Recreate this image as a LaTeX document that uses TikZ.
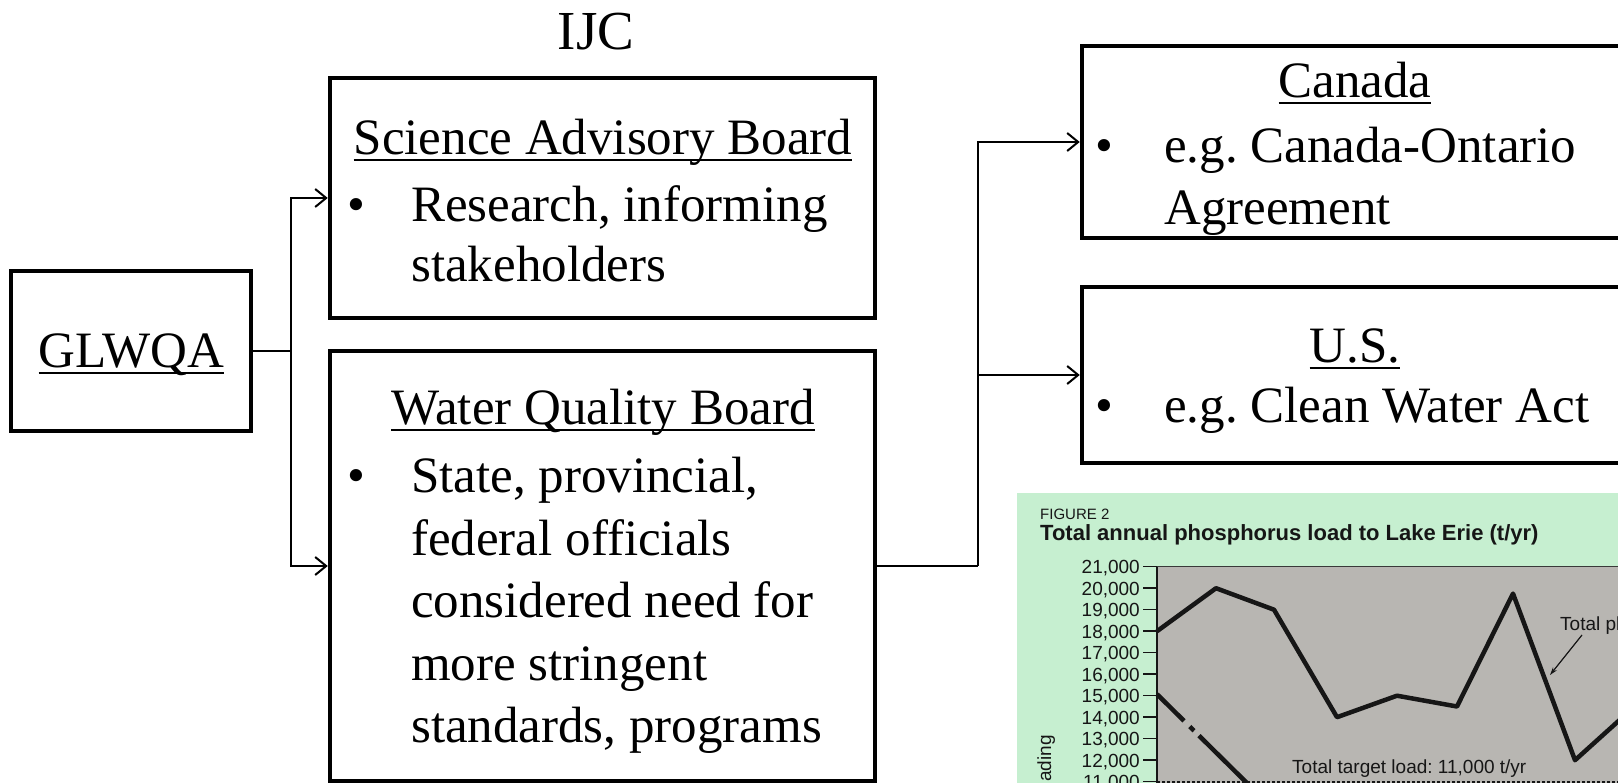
\documentclass[tikz,border=0pt]{standalone}
\usepackage{fontspec}
\setmainfont{Liberation Serif}
\newfontfamily\chartfont{Liberation Sans}
\usetikzlibrary{arrows.meta}

\definecolor{figgreen}{RGB}{198,239,208}
\definecolor{plotgray}{RGB}{184,182,178}
\definecolor{ink}{RGB}{22,22,22}

% underline at a fixed depth below the baseline (descenders cross it)
\newcommand\ulword[1]{\setbox0\hbox{#1}\rlap{\rule[-6.5pt]{\wd0}{2.2pt}}\box0}
\newcommand\bodysize{\fontsize{51}{60}\selectfont\frenchspacing}
\newcommand\chartsize{\fontsize{19}{22}\selectfont\frenchspacing}

\begin{document}
\begin{tikzpicture}[x=1pt,y=-1pt,
  box/.style={draw, line width=4.5pt, rectangle, inner sep=0pt},
  conn/.style={line width=2.2pt},
  arr/.style={conn, -{Straight Barb[length=11pt,width=18pt,line width=2pt]}},
  txt/.style={inner sep=0pt, font=\bodysize},
  ctxt/.style={inner sep=0pt, font=\chartfont\chartsize, text=ink},
]
\useasboundingbox (0,0) rectangle (1618,783);
\clip (0,0) rectangle (1618,783);

% ---------------- organisation chart ----------------
\node[txt, font=\fontsize{55}{60}\selectfont, anchor=base] (ijc) at (596,50) {IJC};

\node[box, minimum width=240pt, minimum height=160pt] (glwqa) at (131,351) {};
\node[txt, anchor=base] (glwqat) at (131.5,368) {\ulword{GLWQA}};

\node[box, minimum width=545pt, minimum height=240pt] (sab) at (602.5,198) {};
\node[txt, anchor=base] (sabh) at (603,155) {\ulword{Science Advisory Board}};
\node[txt, anchor=base west] (sabb) at (347,222) {•};
\node[txt, anchor=base west] (sab1) at (411,222) {Research, informing};
\node[txt, anchor=base west] (sab2) at (411,282) {stakeholders};

\node[box, minimum width=545pt, minimum height=430pt] (wqb) at (602.5,566) {};
\node[txt, anchor=base] (wqbh) at (603,425) {\ulword{Water Quality Board}};
\node[txt, anchor=base west] (wqbb) at (347,493) {•};
\node[txt, anchor=base west] (wqb1) at (411,493) {State, provincial,};
\node[txt, anchor=base west] (wqb2) at (411,555) {federal officials};
\node[txt, anchor=base west] (wqb3) at (411,617) {considered need for};
\node[txt, anchor=base west] (wqb4) at (411,680) {more stringent};
\node[txt, anchor=base west] (wqb5) at (411,742) {standards, programs};

\node[box, minimum width=600pt, minimum height=192pt] (can) at (1382,142) {};
\node[txt, anchor=base] (canh) at (1355,98) {\ulword{Canada}};
\node[txt, anchor=base west] (canb) at (1095,163) {•};
\node[txt, anchor=base west] (can1) at (1164,163) {e.g. Canada-Ontario};
\node[txt, anchor=base west] (can2) at (1164,225) {Agreement};

\node[box, minimum width=600pt, minimum height=176pt] (us) at (1382,375) {};
\node[txt, anchor=base] (ush) at (1355,363) {\ulword{U.S.}};
\node[txt, anchor=base west] (usb) at (1095,423) {•};
\node[txt, anchor=base west] (us1) at (1164,423) {e.g. Clean Water Act};

% connectors
\coordinate (j1) at (291,351);
\coordinate (j2) at (978,566);
\draw[conn] (glwqa.east) -- (j1);
\draw[arr] (j1) |- (sab.west);
\draw[arr] (j1) |- (wqb.west);
\draw[conn] (wqb.east) -- (j2);
\draw[arr] (j2) |- (can.west);
\draw[arr] (j2) |- (us.west);

% ---------------- phosphorus load figure ----------------
\fill[figgreen] (1017,493) rectangle (1630,790);
\fill[plotgray] (1157,566.7) rectangle (1630,790);
\draw[gray!45!black, line width=1pt] (1157,566.7) -- (1630,566.7);
\draw[ink, line width=1.5pt] (1157,566.7) -- (1157,790);

\node[ctxt, font=\chartfont\fontsize{15}{18}\selectfont, anchor=base west] (figno) at (1040,519) {FIGURE 2};
\node[ctxt, font=\chartfont\bfseries\fontsize{22}{26}\selectfont, anchor=base west] (figtitle) at (1040,540)
  {Total annual phosphorus load to Lake Erie (t/yr)};

% y axis ticks and labels (1000 t/yr = 21.5 units)
\foreach \lab [count=\i from 0] in {21,20,...,11} {
  \pgfmathsetmacro\yy{566.7+21.5*\i}
  \draw[ink, line width=1.5pt] (1143,\yy) -- (1157,\yy);
  \node[ctxt, anchor=base east] (ylab\lab) at (1140,\yy+6.8) {\lab,000};
}
\node[ctxt, rotate=90, anchor=base east] (yname) at (1051,735) {ading};

% target load
\draw[ink, line width=1.2pt, dash pattern=on 3pt off 2pt] (1157,782) -- (1630,782);
\node[ctxt, anchor=base west] (target) at (1292,773) {Total target load: 11,000 t/yr};

% target reduction path (dash-dot)
\draw[ink, line width=4.5pt, dash pattern=on 70pt off 8pt on 6pt off 7pt, dash phase=32pt]
  (1157,694.2) -- (1252,788);

% total load series
\draw[ink, line width=4.5pt, line join=round]
  (1157,631.2) -- (1216,588.2) -- (1274,609.7) -- (1337,717.2) -- (1397,695.7)
  -- (1457,706.5) -- (1513,593.6) -- (1575,760.2) -- (1637,704.3);

\node[ctxt, anchor=base west] (totlab) at (1560,630) {Total pl};
\coordinate (totend) at (1550,675);
\draw[ink, line width=1.2pt, -{Stealth[length=8pt,width=5pt]}]
  ([xshift=22pt,yshift=-5pt]totlab.base west) -- (totend);
\end{tikzpicture}
\end{document}
